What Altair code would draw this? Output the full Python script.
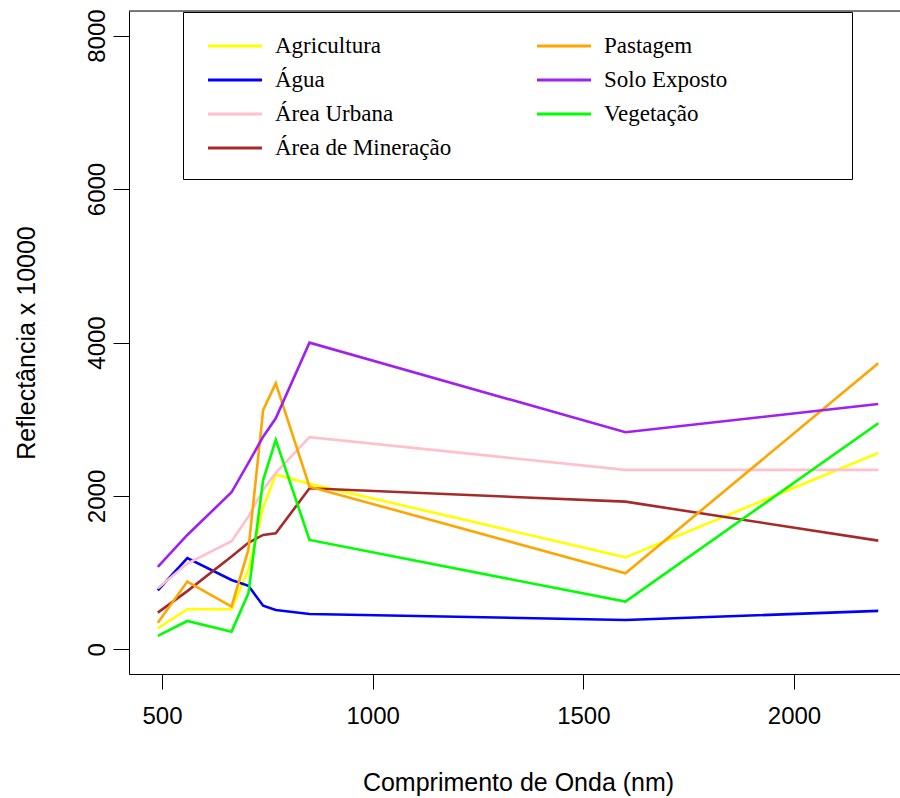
import altair as alt
import pandas as pd

# Wavelengths (nm) of the sampled bands
wavelength = [490, 560, 665, 705, 740, 770, 850, 1600, 2200]

# Reflectance x 10000 per land-cover class
agricultura = [276, 524, 524, 1040, 1850, 2280, 2160, 1200, 2560]
agua = [770, 1190, 905, 830, 570, 515, 462, 384, 502]
area_urbana = [797, 1120, 1410, 1730, 2080, 2300, 2767, 2340, 2340]
area_mineracao = [480, 760, 1210, 1390, 1492, 1514, 2100, 1926, 1418]
pastagem = [349, 884, 558, 1300, 3120, 3468, 2121, 993, 3729]
solo_exposto = [1075, 1492, 2048, 2430, 2773, 3012, 3998, 2830, 3199]
vegetacao = [176, 371, 232, 732, 2208, 2730, 1427, 623, 2947]

series = {
    "Agricultura": agricultura,
    "Água": agua,
    "Área Urbana": area_urbana,
    "Área de Mineração": area_mineracao,
    "Pastagem": pastagem,
    "Solo Exposto": solo_exposto,
    "Vegetação": vegetacao,
}

legend_order = ["Agricultura", "Água", "Área Urbana", "Área de Mineração",
                "Pastagem", "Solo Exposto", "Vegetação"]
legend_colors = ["#FFFF00", "#0000FF", "#FFC0CB", "#A52A2A",
                 "#FFA500", "#A020F0", "#00FF00"]

x_ticks = [500, 1000, 1500, 2000]
y_ticks = [0, 2000, 4000, 6000, 8000]

rows = []
for k, (name, vals) in enumerate(series.items()):
    for w, v in zip(wavelength, vals):
        rows.append({"classe": name, "comprimento": w, "reflectancia": v, "ordem": k})
df = pd.DataFrame(rows)

sans = "Liberation Sans"
serif = "Liberation Serif"

lines = alt.Chart(df).mark_line(strokeWidth=2.6, clip=True).encode(
    x=alt.X("comprimento:Q",
            scale=alt.Scale(domain=[421.6, 2251.6], nice=False, zero=False),
            axis=alt.Axis(values=x_ticks, format="d", title="Comprimento de Onda (nm)",
                          grid=False, domainColor="black", tickColor="black",
                          tickSize=15, labelFont=sans, labelFontSize=24,
                          labelColor="black", labelPadding=15,
                          titleFont=sans, titleFontSize=25, titleFontWeight="normal",
                          titleColor="black", titleX=389, titleY=116,
                          titleBaseline="alphabetic", titleAlign="center")),
    y=alt.Y("reflectancia:Q",
            scale=alt.Scale(domain=[-320, 8320], nice=False, zero=False),
            axis=alt.Axis(values=y_ticks, format="d", title="Reflectância x 10000",
                          grid=False, domainColor="black", tickColor="black",
                          tickSize=16, labelFont=sans, labelFontSize=24,
                          labelColor="black", labelAngle=270, labelAlign="center",
                          labelBaseline="alphabetic", labelPadding=9,
                          titleFont=sans, titleFontSize=25, titleFontWeight="normal",
                          titleColor="black", titleAngle=270, titleX=-95, titleY=331.5,
                          titleBaseline="alphabetic", titleAlign="center")),
    color=alt.Color("classe:N",
                    scale=alt.Scale(domain=legend_order, range=legend_colors),
                    legend=alt.Legend(
                        title="M" * 12, titleOrient="right", titleFont=sans,
                        titleFontSize=10, titlePadding=6, titleOpacity=0,
                        orient="none", legendX=54, legendY=1,
                        columns=2, columnPadding=79, rowPadding=7,
                        symbolType="M-2,0H2", symbolSize=729, symbolStrokeWidth=3,
                        symbolOffset=18, labelOffset=25,
                        labelFont=serif, labelFontSize=23, labelColor="black",
                        labelLimit=0, padding=19,
                        strokeColor="black", fillColor="white")),
    order=alt.Order("ordem:Q"),
)

top_border = alt.Chart(alt.Data(values=[{}])).mark_rule(
    color="black", strokeWidth=1).encode(y=alt.value(0))

chart = alt.layer(lines, top_border).properties(
    width=771, height=663,
    autosize=alt.AutoSizeParams(type="none"),
    padding={"left": 129, "top": 11, "right": 0, "bottom": 124},
).configure_view(stroke=None).configure(background="white")

chart.save("out.html", embed_options={"renderer": "svg", "actions": False})
